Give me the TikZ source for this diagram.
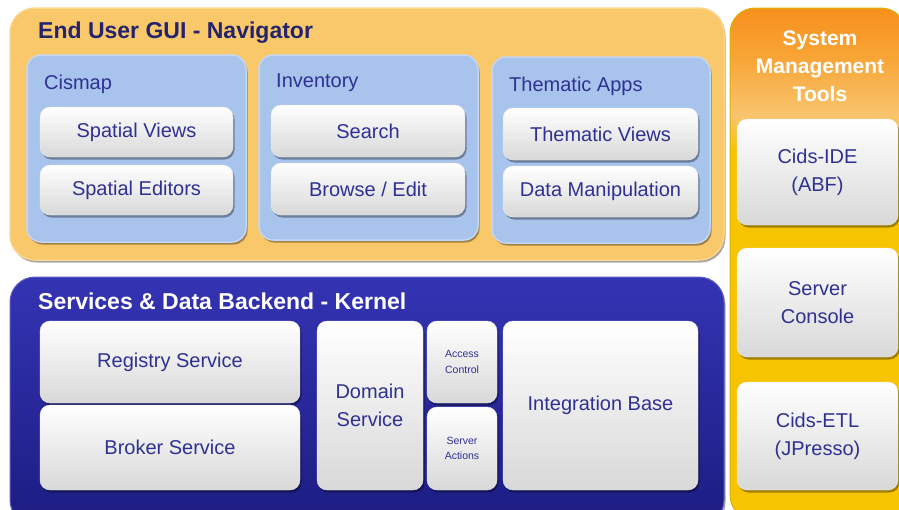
\documentclass[tikz,border=0pt]{standalone}
\usepackage{fontspec}
\setmainfont{Liberation Sans}
\usepackage{xcolor}
\usepackage{tikz}
\usetikzlibrary{shadows,positioning,calc}

\definecolor{navorange}{HTML}{F9C86B}
\definecolor{navrim}{HTML}{FBD48C}
\definecolor{appblue}{HTML}{A8C3EC}
\definecolor{apprim}{HTML}{C3D6F4}
\definecolor{kerneltop}{HTML}{3434B4}
\definecolor{kernelbot}{HTML}{1C1C82}
\definecolor{textnavy}{HTML}{2E3192}
\definecolor{titlenavy}{HTML}{24246E}
\definecolor{btnbot}{HTML}{D8D8D8}
\definecolor{sysorange}{HTML}{F7901C}
\definecolor{sysmid}{HTML}{F8A638}
\definecolor{syslight}{HTML}{F9C46E}
\definecolor{sysyellow}{HTML}{F6C400}
\pgfdeclareverticalshading{sysshade}{100bp}{color(0bp)=(sysyellow); color(61bp)=(sysyellow); color(64.5bp)=(syslight); color(70bp)=(sysmid); color(75bp)=(sysorange); color(100bp)=(sysorange)}

\newcommand{\sz}[1]{\fontsize{#1pt}{\the\dimexpr #1pt*6/5\relax}\selectfont}

\tikzset{
  softshadow/.style={drop shadow={shadow xshift=1.5pt, shadow yshift=-2.5pt, opacity=0.35, fill=black}},
  panel/.style={rounded corners=25pt, softshadow},
  group/.style={draw=apprim, line width=1.5pt, fill=appblue, rounded corners=14pt, softshadow},
  btn/.style={rectangle, rounded corners=10pt, top color=white, bottom color=btnbot,
    draw=white!92!black, line width=0.4pt, softshadow, text=textnavy, font=\sz{20},
    align=center, inner sep=2pt},
  grouplabel/.style={anchor=west, text=textnavy, font=\sz{20}, inner sep=0pt},
  paneltitle/.style={anchor=west, font=\bfseries\sz{23}, inner sep=0pt}
}

\begin{document}
\begin{tikzpicture}[x=1pt, y=-1pt]
    \useasboundingbox (0,0) rectangle (899,509);
    \clip (0,0) rectangle (899,509);

    % End User GUI panel
    \draw [panel, fill=navorange, draw=navrim, line width=1.5pt] (10,8) rectangle (724,260);
    \node [paneltitle, text=titlenavy] (navtitle) at (38,33) {End User GUI - Navigator};

    % Cismap
    \draw [group] (27,55) rectangle (246,242);
    \node [grouplabel] (cismap) at (44,84) {Cismap};
    \node [btn, minimum width=193, minimum height=50] (spviews) at (136.5,132) {Spatial Views};
    \node [btn, minimum width=193, minimum height=50] (speditors) at (136.5,190) {Spatial Editors};

    % Inventory
    \draw [group] (259,55) rectangle (478,240);
    \node [grouplabel] (inventory) at (276,83) {Inventory};
    \node [btn, minimum width=194, minimum height=52] (search) at (368,131) {Search};
    \node [btn, minimum width=194, minimum height=52] (browse) at (368,189) {Browse / Edit};

    % Thematic Apps
    \draw [group] (492,57) rectangle (710,243);
    \node [grouplabel] (thematic) at (509,86) {Thematic Apps};
    \node [btn, minimum width=195, minimum height=52] (thviews) at (600.5,134) {Thematic Views};
    \node [btn, minimum width=195, minimum height=51] (datamanip) at (600.5,191.5) {Data Manipulation};

    % Kernel panel
    \draw [panel, top color=kerneltop, bottom color=kernelbot, draw=kerneltop!80!white, line width=1pt] (10,277) rectangle (724,525);
    \node [paneltitle, text=white] (kerneltitle) at (38,301) {Services \& Data Backend - Kernel};
    \node [btn, minimum width=260, minimum height=82] (registry) at (170,362) {Registry Service};
    \node [btn, minimum width=260, minimum height=85] (broker) at (170,447.5) {Broker Service};
    \node [btn, minimum width=106, minimum height=169] (domain) at (370,405.5) {Domain\\[4pt]Service};
    \node [btn, minimum width=70, minimum height=82, font=\sz{10.5}] (access) at (462,362) {Access\\[3pt]Control};
    \node [btn, minimum width=70, minimum height=83, font=\sz{10.5}] (actions) at (462,448.5) {Server\\[3pt]Actions};
    \node [btn, minimum width=195, minimum height=169] (integration) at (600.5,405.5) {Integration Base};

    % System Management Tools
    \draw [panel, shading=sysshade, draw=sysyellow!90!black, line width=1pt] (730,8) rectangle (906,520);
    \node [font=\bfseries\sz{21}, text=white, align=center] (systitle) at (820,66) {System\\[3pt]Management\\[3pt]Tools};
    \node [btn, minimum width=161, minimum height=106] (ide) at (817.5,172) {Cids-IDE\\[4pt](ABF)};
    \node [btn, minimum width=161, minimum height=109] (console) at (817.5,302.5) {Server\\[4pt]Console};
    \node [btn, minimum width=161, minimum height=108] (etl) at (817.5,436) {Cids-ETL\\[4pt](JPresso)};
\end{tikzpicture}
\end{document}
